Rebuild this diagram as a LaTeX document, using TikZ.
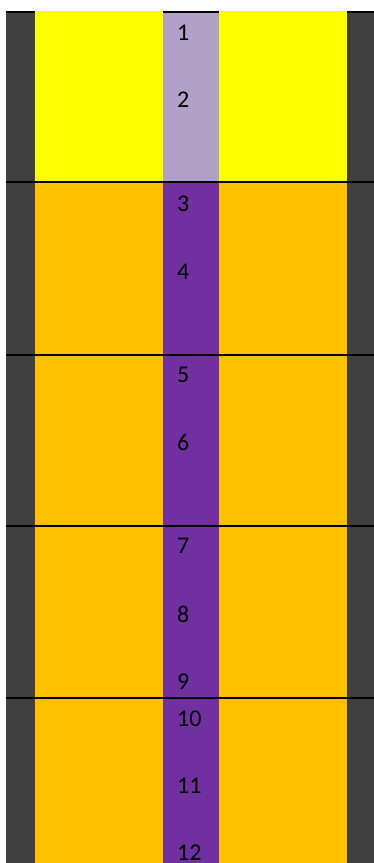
\documentclass[tikz,border=0pt]{standalone}
\usepackage{fontspec}
\setmainfont{Carlito}
\usetikzlibrary{positioning}
\definecolor{wallgray}{HTML}{404040}
\definecolor{topfill}{HTML}{FFFF00}
\definecolor{layerfill}{HTML}{FFC000}
\definecolor{corelav}{HTML}{B1A0C7}
\definecolor{coreviolet}{HTML}{7030A0}

\begin{document}
\begin{tikzpicture}[x=1pt,y=-1pt]
\useasboundingbox (0,0) rectangle (374,863);
% walls left and right
\fill[wallgray] (6,11) rectangle (35,863);
\fill[wallgray] (347,11) rectangle (374,863);
% top layer
\fill[topfill] (35,11) rectangle (347,182);
\fill[corelav] (163,11) rectangle (219,182);
% lower layers
\fill[layerfill] (35,182) rectangle (347,863);
\fill[coreviolet] (163,182) rectangle (219,863);
% dividers
\foreach \y in {182,355,526,698} {
  \draw[line width=2pt] (6,\y) -- (374,\y);
}
\foreach \xa/\xb in {6/35,163/219,347/374} {
  \draw[line width=2pt] (\xa,12) -- (\xb,12);
}
% cell numbers
\foreach \n/\y in {1/40,2/107,3/211,4/279,5/382,6/450,7/553,8/622,9/689,10/726,11/793,12/860} {
  \node[font=\fontsize{24}{24}\selectfont, anchor=base west, inner sep=0pt] (cell\n) at (177,\y) {\n};
}
\end{tikzpicture}
\end{document}
